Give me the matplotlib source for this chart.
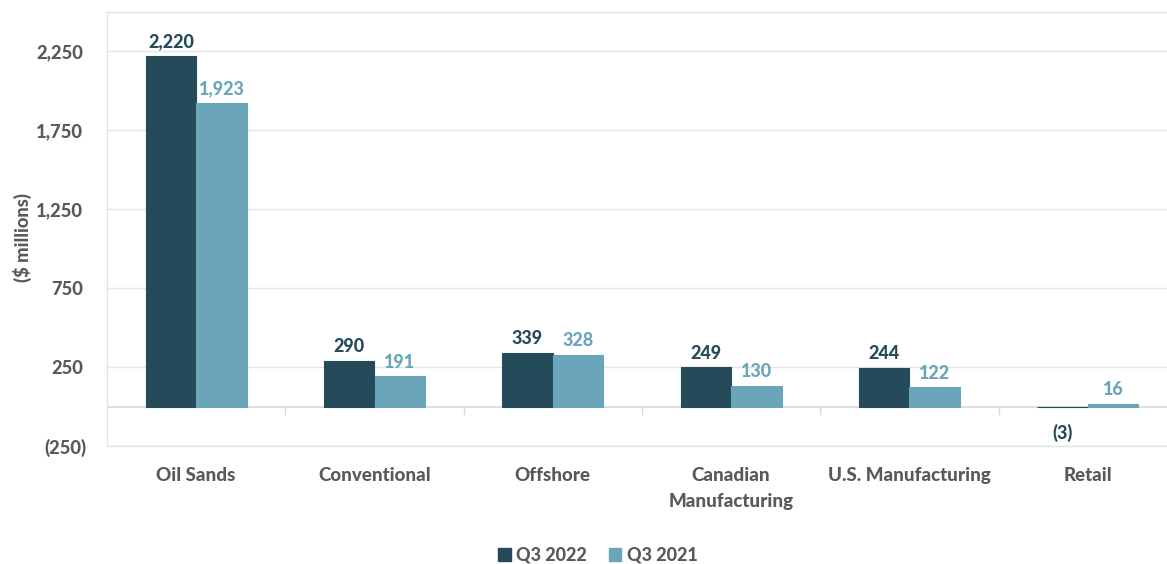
import matplotlib
matplotlib.use("Agg")
import matplotlib.pyplot as plt
import matplotlib.transforms as mtransforms
from matplotlib.patches import Patch
import numpy as np

categories = ["Oil Sands", "Conventional", "Offshore", "Canadian\nManufacturing",
              "U.S. Manufacturing", "Retail"]
q3_2022 = [2220, 290, 339, 249, 244, -3]
q3_2021 = [1923, 191, 328, 130, 122, 16]
series_names = ["Q3 2022", "Q3 2021"]
yticks = [-250, 250, 750, 1250, 1750, 2250]

DARK = "#254B5A"
LIGHT = "#6BA5BA"
TXT = "#595959"
GRID = "#E4E4E4"
WEIGHT = 900

plt.rcParams["font.family"] = ["Lato", "DejaVu Sans"]
plt.rcParams["font.weight"] = WEIGHT

W, H = 1167, 564
fig = plt.figure(figsize=(W / 100, H / 100), dpi=100)
left, right, top, bottom = 107, 1177, 12, 446
ax = fig.add_axes([left / W, 1 - bottom / H, (right - left) / W, (bottom - top) / H])

x = np.arange(len(categories))
bw = 0.284
b1 = ax.bar(x - bw / 2, q3_2022, bw, color=DARK, edgecolor=DARK, linewidth=0.8, zorder=3)
b2 = ax.bar(x + bw / 2, q3_2021, bw, color=LIGHT, edgecolor=LIGHT, linewidth=0.8, zorder=3)

ax.set_xlim(-0.5, len(categories) - 0.5)
ax.set_ylim(-250, 2500)

def fmt(v):
    return f"({abs(v):,})" if v < 0 else f"{v:,}"

ax.set_yticks(yticks)
ax.set_yticklabels([fmt(v) for v in yticks], fontsize=13.2, color=TXT, fontweight=WEIGHT)
ax.tick_params(axis="y", length=0, pad=17.3)
for lab, v in zip(ax.get_yticklabels(), yticks):
    if v < 0:
        lab.set_transform(lab.get_transform() +
                          mtransforms.ScaledTranslation(4 / 100, 0, fig.dpi_scale_trans))

ax.set_xticks(x)
ax.set_xticklabels(categories, fontsize=13.5, color=TXT, fontweight=WEIGHT, linespacing=1.65)
ax.tick_params(axis="x", length=0, pad=15)

ax.grid(axis="y", color=GRID, linewidth=1, zorder=0)
ax.axhline(0, color="#D9D9D9", linewidth=1.2, zorder=2)
for sep in np.arange(0.5, len(categories) - 0.5, 1.0):
    ax.plot([sep, sep], [0, -45], color="#D9D9D9", linewidth=1, zorder=2, clip_on=False)

for s in ["top", "left", "right", "bottom"]:
    ax.spines[s].set_color(GRID)
    ax.spines[s].set_linewidth(1)

ax.set_ylabel("($ millions)", fontsize=13.2, color=TXT, fontweight=WEIGHT)
ax.yaxis.set_label_coords(-75 / (right - left), 0.48)

for bars, vals, col in [(b1, q3_2022, DARK), (b2, q3_2021, LIGHT)]:
    for rect, v in zip(bars, vals):
        cx = rect.get_x() + rect.get_width() / 2
        if v >= 0:
            ax.annotate(fmt(v), (cx, v), xytext=(0, 4), textcoords="offset points",
                        ha="center", va="bottom", fontsize=13, color=col, fontweight=WEIGHT)
        else:
            ax.annotate(fmt(v), (cx, v), xytext=(0, -12), textcoords="offset points",
                        ha="center", va="top", fontsize=13, color=col, fontweight=WEIGHT)

handles = [Patch(color=DARK), Patch(color=LIGHT)]
fig.legend(handles, series_names, loc="center", bbox_to_anchor=(598 / W, 1 - 555 / H),
           ncol=2, frameon=False, prop={"size": 13, "weight": WEIGHT},
           handlelength=0.7, handleheight=0.7, handletextpad=0.3, columnspacing=1.2,
           labelcolor=TXT)

fig.savefig("out.png", dpi=100)
